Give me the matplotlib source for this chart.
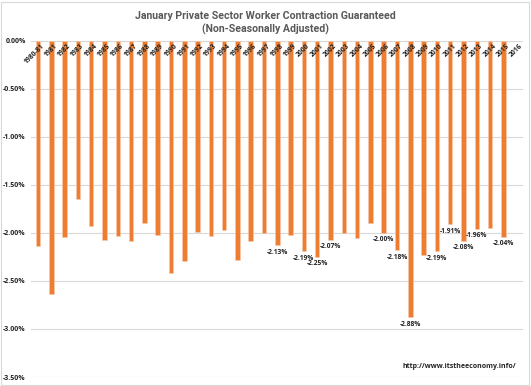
import numpy as np
import matplotlib
matplotlib.use('Agg')
import matplotlib.pyplot as plt
import matplotlib.ticker as ticker
from matplotlib.patches import Rectangle

# ------------------------------------------------------------------------------
# Data (percent change, January, non-seasonally adjusted)
# ------------------------------------------------------------------------------
years = ['1980-81'] + [str(y) for y in range(1981, 2017)]
values = [-2.14, -2.64, -2.04, -1.645, -1.93, -2.075, -2.03, -2.08, -1.90, -2.02,
          -2.415, -2.29, -1.99, -2.03, -1.975, -2.28, -2.08, -2.00, -2.13, -2.02,
          -2.19, -2.25, -2.07, -2.00, -2.05, -1.90, -2.00, -2.18, -2.88, -2.23,
          -2.19, -1.91, -2.08, -1.96, -1.95, -2.04, np.nan]
labelled = ['1998', '2000', '2001', '2002', '2006', '2007', '2008',
            '2010', '2011', '2012', '2013', '2015']
y_ticks = [0.0, -0.5, -1.0, -1.5, -2.0, -2.5, -3.0, -3.5]

plt.rcParams['font.family'] = ['Open Sans', 'DejaVu Sans']

fig = plt.figure(figsize=(5.31, 3.86), dpi=100)
ax = fig.add_axes([0.059, 0.0233, 0.9266, 0.8713])

x = np.arange(len(years))
ax.bar(x, values, width=0.34, color='#ED7D31', edgecolor='#F8CBAD',
       linewidth=0.4, zorder=2)

# data labels
for xi, yr, v in zip(x, years, values):
    if yr in labelled:
        ax.annotate(f'{v:.2f}%', (xi, v), xytext=(0, -2.5), textcoords='offset points',
                    ha='center', va='top', fontsize=4.8, fontweight='bold', color='#222222')

# category labels drawn just under the zero line
for xi, yr in zip(x, years):
    ax.annotate(yr, (xi + 0.2, 0), xytext=(0, -1.5), textcoords='offset points',
                ha='right', va='top', rotation=45, rotation_mode='anchor',
                fontsize=4.9, fontweight='bold', color='#222222', zorder=5)

ax.set_xlim(-0.5, len(years) - 0.5)
ax.set_ylim(-3.5, 0)
ax.set_xticks([])
ax.set_yticks(y_ticks)
ax.yaxis.set_major_formatter(ticker.FuncFormatter(lambda v, p: f'{v:.2f}%'))
ax.tick_params(axis='y', length=0, pad=4, labelsize=5, labelcolor='#222222')
for lab in ax.get_yticklabels():
    lab.set_fontweight('bold')
ax.grid(axis='y', color='#D9D9D9', linewidth=0.8, zorder=0)
for s in ax.spines.values():
    s.set_visible(False)

fig.text(0.5, 0.972, 'January Private Sector Worker Contraction Guaranteed\n(Non-Seasonally Adjusted)',
         ha='center', va='top', fontsize=7.6, fontweight='bold', color='#595959',
         linespacing=1.3, family=['Roboto', 'DejaVu Sans'])

ax.text(0.985, 0.03, 'http://www.itstheeconomy.info/', transform=ax.transAxes,
        ha='right', va='center', fontsize=5, fontweight='bold', color='#222222')

fig.patches.append(Rectangle((0.002, 0.002), 0.994, 0.994, transform=fig.transFigure,
                             fill=False, edgecolor='#D9D9D9', linewidth=0.8))

fig.savefig('out.png', dpi=100)
